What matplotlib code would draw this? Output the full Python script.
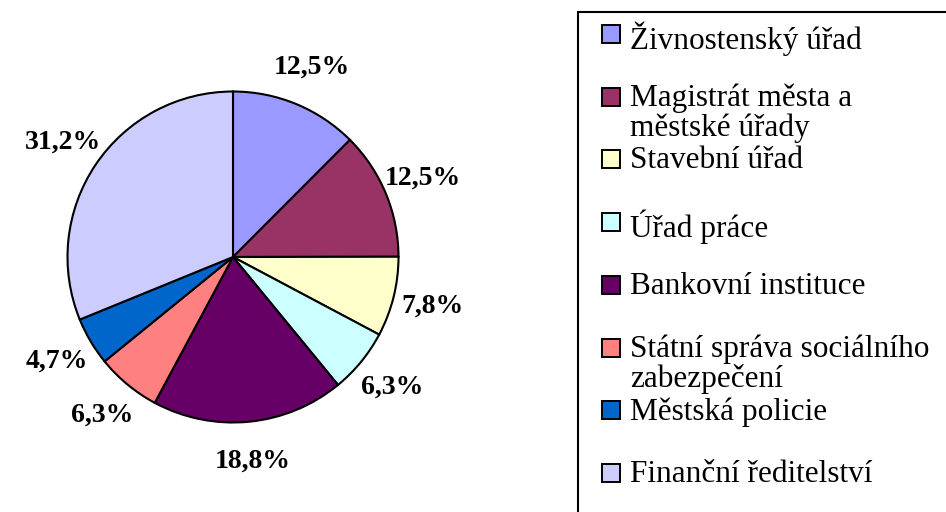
import matplotlib.pyplot as plt
from matplotlib.patches import Rectangle

# data
labels = ["Živnostenský úřad", "Magistrát města a\nměstské úřady", "Stavební úřad",
          "Úřad práce", "Bankovní instituce", "Státní správa sociálního\nzabezpečení",
          "Městská policie", "Finanční ředitelství"]
shares = [12.5, 12.5, 7.8, 6.3, 18.8, 6.3, 4.7, 31.2]
colors = ["#9999FF", "#993366", "#FFFFCC", "#CCFFFF", "#660066", "#FF8080",
          "#0066CC", "#CCCCFF"]

W, H = 946, 512
plt.rcParams['font.family'] = ['Liberation Serif', 'DejaVu Serif']
fig = plt.figure(figsize=(W / 100, H / 100), dpi=100)
fig.patch.set_facecolor('white')

# pie, centre (233,257) px, radius ~165 px
r = 165.5
cx, cy = 233, 257
side = 2.5 * r
ax = fig.add_axes([(cx - side / 2) / W, (H - cy - side / 2) / H, side / W, side / H])
pct = [('%.1f%%' % s).replace('.', ',') for s in shares]
wedges, texts = ax.pie(shares, colors=colors, startangle=90, counterclock=False,
                       labels=pct, labeldistance=1.24,
                       wedgeprops=dict(edgecolor='black', linewidth=1.5),
                       textprops=dict(fontsize=20, fontweight='bold'))
for t in texts:
    t.set_horizontalalignment('center')
    t.set_verticalalignment('center')
ax.set_xlim(-1.25, 1.25)
ax.set_ylim(-1.25, 1.25)

# legend box (runs off the right and bottom edge)
fig.add_artist(Rectangle((578 / W, -0.1), 1, (H - 12) / H + 0.1, transform=fig.transFigure,
                         fill=False, edgecolor='black', linewidth=1.5))
for i, (lab, col) in enumerate(zip(labels, colors)):
    yc = 34 + i * 62.7
    fig.add_artist(Rectangle((602 / W, (H - yc - 9) / H), 18 / W, 18 / H,
                             transform=fig.transFigure, facecolor=col,
                             edgecolor='black', linewidth=1.4))
    fig.text(630 / W, (H - yc + 13) / H, lab, fontsize=22.5, ha='left', va='top',
             linespacing=1.0)

fig.savefig('out.png', dpi=100, facecolor='white')
